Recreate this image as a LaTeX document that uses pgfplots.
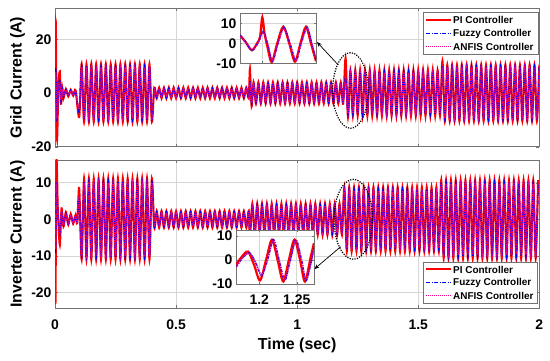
\documentclass[border=0pt]{standalone}
\usepackage{fontspec}
\setmainfont{Liberation Sans}
\usepackage{pgfplots}
\pgfplotsset{compat=1.18}
\usepackage{pgfplotstable}
\usetikzlibrary{arrows.meta}
\definecolor{axgray}{gray}{0.45}
\newcommand\tk{\bfseries\fontsize{14}{16}\selectfont}
\newcommand\lb{\bfseries\fontsize{16}{18}\selectfont}
\newcommand\lgf{\bfseries\fontsize{10}{12}\selectfont}

\pgfplotstableread{
t pi fz an
0.000 0 0 0
0.003 27 9 7
0.008 -17 -10 -9
0.014 2 1 1
0.020 8 5 4
0.025 -4 -3 -2.5
0.030 2 1.5 1.5
0.035 -2 -1.5 -1.2
0.045 1.5 1.2 1
0.055 -1.3 -1 -1
0.065 1.2 1 1
0.075 -1 -1 -0.8
0.085 1 0.8 0.8
0.100 -9 -7 -6
0.110 10.8 10 9.6
0.120 -10.8 -10 -9.6
0.130 10.8 10 9.6
0.140 -10.8 -10 -9.6
0.150 10.8 10 9.6
0.160 -10.8 -10 -9.6
0.170 10.8 10 9.6
0.180 -10.8 -10 -9.6
0.190 10.8 10 9.6
0.200 -10.8 -10 -9.6
0.210 10.8 10 9.6
0.220 -10.8 -10 -9.6
0.230 10.8 10 9.6
0.240 -10.8 -10 -9.6
0.250 10.8 10 9.6
0.260 -10.8 -10 -9.6
0.270 10.8 10 9.6
0.280 -10.8 -10 -9.6
0.290 10.8 10 9.6
0.300 -10.8 -10 -9.6
0.310 10.8 10 9.6
0.320 -10.8 -10 -9.6
0.330 10.8 10 9.6
0.340 -10.8 -10 -9.6
0.350 10.8 10 9.6
0.360 -10.8 -10 -9.6
0.370 10.8 10 9.6
0.380 -10.8 -10 -9.6
0.390 10.8 10 9.6
0.400 -10.8 -10 -9.6
0.410 2 1.7 1.5
0.420 -2 -1.7 -1.5
0.430 2 1.7 1.5
0.440 -2 -1.7 -1.5
0.450 2 1.7 1.5
0.460 -2 -1.7 -1.5
0.470 2 1.7 1.5
0.480 -2 -1.7 -1.5
0.490 2 1.7 1.5
0.500 -2 -1.7 -1.5
0.510 2 1.7 1.5
0.520 -2 -1.7 -1.5
0.530 2 1.7 1.5
0.540 -2 -1.7 -1.5
0.550 2 1.7 1.5
0.560 -2 -1.7 -1.5
0.570 2 1.7 1.5
0.580 -2 -1.7 -1.5
0.590 2 1.7 1.5
0.600 -2 -1.7 -1.5
0.610 2 1.7 1.5
0.620 -2 -1.7 -1.5
0.630 2 1.7 1.5
0.640 -2 -1.7 -1.5
0.650 2 1.7 1.5
0.660 -2 -1.7 -1.5
0.670 2 1.7 1.5
0.680 -2 -1.7 -1.5
0.690 2 1.7 1.5
0.700 -2 -1.7 -1.5
0.710 2 1.7 1.5
0.720 -2 -1.7 -1.5
0.730 2 1.7 1.5
0.740 -2 -1.7 -1.5
0.750 2 1.7 1.5
0.760 -2 -1.7 -1.5
0.770 2 1.7 1.5
0.780 -2 -1.7 -1.5
0.790 2 1.7 1.5
0.800 -2 -1.7 -1.5
0.805 9 4.5 4
0.812 -5 -4 -3.6
0.820 4 3.6 3.4
0.830 -4 -3.6 -3.4
0.840 4 3.6 3.4
0.850 -4 -3.6 -3.4
0.860 4 3.6 3.4
0.870 -4 -3.6 -3.4
0.880 4 3.6 3.4
0.890 -4 -3.6 -3.4
0.900 4 3.6 3.4
0.910 -4 -3.6 -3.4
0.920 4 3.6 3.4
0.930 -4 -3.6 -3.4
0.940 4 3.6 3.4
0.950 -4 -3.6 -3.4
0.960 4 3.6 3.4
0.970 -4 -3.6 -3.4
0.980 4 3.6 3.4
0.990 -4 -3.6 -3.4
1.000 4 3.6 3.4
1.010 -4 -3.6 -3.4
1.020 4 3.6 3.4
1.030 -4 -3.6 -3.4
1.040 4 3.6 3.4
1.050 -4 -3.6 -3.4
1.060 4 3.6 3.4
1.070 -4 -3.6 -3.4
1.080 4 3.6 3.4
1.090 -4 -3.6 -3.4
1.100 4 3.6 3.4
1.110 -4 -3.6 -3.4
1.120 4 3.6 3.4
1.130 -4 -3.6 -3.4
1.140 4 3.6 3.4
1.150 -4 -3.6 -3.4
1.160 4 3.6 3.4
1.170 -4 -3.6 -3.4
1.180 4 3.6 3.4
1.190 -4 -3.6 -3.4
1.200 13 6 5.5
1.210 -9.1 -8 -7.6
1.220 8.5 7.9 7.6
1.230 -8.5 -7.9 -7.6
1.240 8.5 7.9 7.6
1.250 -8.5 -7.9 -7.6
1.260 8.5 7.9 7.6
1.270 -8.5 -7.9 -7.6
1.280 8.5 7.9 7.6
1.290 -8.5 -7.9 -7.6
1.300 8.5 7.9 7.6
1.310 -8.5 -7.9 -7.6
1.320 8.5 7.9 7.6
1.330 -8.5 -7.9 -7.6
1.340 8.5 7.9 7.6
1.350 -8.5 -7.9 -7.6
1.360 8.5 7.9 7.6
1.370 -8.5 -7.9 -7.6
1.380 8.5 7.9 7.6
1.390 -8.5 -7.9 -7.6
1.400 8.5 7.9 7.6
1.410 -8.5 -7.9 -7.6
1.420 8.5 7.9 7.6
1.430 -8.5 -7.9 -7.6
1.440 8.5 7.9 7.6
1.450 -8.5 -7.9 -7.6
1.460 8.5 7.9 7.6
1.470 -8.5 -7.9 -7.6
1.480 8.5 7.9 7.6
1.490 -8.5 -7.9 -7.6
1.500 8.5 7.9 7.6
1.510 -8.5 -7.9 -7.6
1.520 8.5 7.9 7.6
1.530 -8.5 -7.9 -7.6
1.540 8.5 7.9 7.6
1.550 -8.5 -7.9 -7.6
1.560 8.5 7.9 7.6
1.570 -8.5 -7.9 -7.6
1.580 8.5 7.9 7.6
1.590 -8.5 -7.9 -7.6
1.600 12 10 9.6
1.610 -10.5 -10 -9.6
1.620 10.5 10 9.6
1.630 -10.5 -10 -9.6
1.640 10.5 10 9.6
1.650 -10.5 -10 -9.6
1.660 10.5 10 9.6
1.670 -10.5 -10 -9.6
1.680 10.5 10 9.6
1.690 -10.5 -10 -9.6
1.700 10.5 10 9.6
1.710 -10.5 -10 -9.6
1.720 10.5 10 9.6
1.730 -10.5 -10 -9.6
1.740 10.5 10 9.6
1.750 -10.5 -10 -9.6
1.760 10.5 10 9.6
1.770 -10.5 -10 -9.6
1.780 10.5 10 9.6
1.790 -10.5 -10 -9.6
1.800 10.5 10 9.6
1.810 -10.5 -10 -9.6
1.820 10.5 10 9.6
1.830 -10.5 -10 -9.6
1.840 10.5 10 9.6
1.850 -10.5 -10 -9.6
1.860 10.5 10 9.6
1.870 -10.5 -10 -9.6
1.880 10.5 10 9.6
1.890 -10.5 -10 -9.6
1.900 10.5 10 9.6
1.910 -10.5 -10 -9.6
1.920 10.5 10 9.6
1.930 -10.5 -10 -9.6
1.940 10.5 10 9.6
1.950 -10.5 -10 -9.6
1.960 10.5 10 9.6
1.970 -10.5 -10 -9.6
1.980 10.5 10 9.6
1.990 -10.5 -10 -9.6
2.000 10.5 10 9.6
}\toptab

\pgfplotstableread{
t pi fz an
0.000 0 0 0
0.002 -23 -9 -8
0.006 16 10 9
0.012 2 2 1.5
0.020 -7 -4 -3.5
0.027 3 2 2
0.035 -2 -1.5 -1.5
0.045 2 1.5 1.2
0.055 -1.5 -1.2 -1
0.065 1.5 1.2 1
0.075 -1.2 -1 -1
0.085 1.2 1 1
0.092 -1 -1 -0.8
0.100 8.5 6 5.5
0.110 -11 -10.3 -10
0.120 11.2 10.3 10
0.130 -11 -10.3 -10
0.140 11.2 10.3 10
0.150 -11 -10.3 -10
0.160 11.2 10.3 10
0.170 -11 -10.3 -10
0.180 11.2 10.3 10
0.190 -11 -10.3 -10
0.200 11.2 10.3 10
0.210 -11 -10.3 -10
0.220 11.2 10.3 10
0.230 -11 -10.3 -10
0.240 11.2 10.3 10
0.250 -11 -10.3 -10
0.260 11.2 10.3 10
0.270 -11 -10.3 -10
0.280 11.2 10.3 10
0.290 -11 -10.3 -10
0.300 11.2 10.3 10
0.310 -11 -10.3 -10
0.320 11.2 10.3 10
0.330 -11 -10.3 -10
0.340 11.2 10.3 10
0.350 -11 -10.3 -10
0.360 11.2 10.3 10
0.370 -11 -10.3 -10
0.380 11.2 10.3 10
0.390 -11 -10.3 -10
0.400 11.2 10.3 10
0.410 -2.3 -2 -1.8
0.420 2.3 2 1.8
0.430 -2.3 -2 -1.8
0.440 2.3 2 1.8
0.450 -2.3 -2 -1.8
0.460 2.3 2 1.8
0.470 -2.3 -2 -1.8
0.480 2.3 2 1.8
0.490 -2.3 -2 -1.8
0.500 2.3 2 1.8
0.510 -2.3 -2 -1.8
0.520 2.3 2 1.8
0.530 -2.3 -2 -1.8
0.540 2.3 2 1.8
0.550 -2.3 -2 -1.8
0.560 2.3 2 1.8
0.570 -2.3 -2 -1.8
0.580 2.3 2 1.8
0.590 -2.3 -2 -1.8
0.600 2.3 2 1.8
0.610 -2.3 -2 -1.8
0.620 2.3 2 1.8
0.630 -2.3 -2 -1.8
0.640 2.3 2 1.8
0.650 -2.3 -2 -1.8
0.660 2.3 2 1.8
0.670 -2.3 -2 -1.8
0.680 2.3 2 1.8
0.690 -2.3 -2 -1.8
0.700 2.3 2 1.8
0.710 -2.3 -2 -1.8
0.720 2.3 2 1.8
0.730 -2.3 -2 -1.8
0.740 2.3 2 1.8
0.750 -2.3 -2 -1.8
0.760 2.3 2 1.8
0.770 -2.3 -2 -1.8
0.780 2.3 2 1.8
0.790 -2.3 -2 -1.8
0.800 2.3 2 1.8
0.805 -5 -4 -3.8
0.815 4.3 3.9 3.7
0.825 -4.3 -3.9 -3.7
0.835 4.3 3.9 3.7
0.845 -4.3 -3.9 -3.7
0.855 4.3 3.9 3.7
0.865 -4.3 -3.9 -3.7
0.875 4.3 3.9 3.7
0.885 -4.3 -3.9 -3.7
0.895 4.3 3.9 3.7
0.905 -4.3 -3.9 -3.7
0.915 4.3 3.9 3.7
0.925 -4.3 -3.9 -3.7
0.935 4.3 3.9 3.7
0.945 -4.3 -3.9 -3.7
0.955 4.3 3.9 3.7
0.965 -4.3 -3.9 -3.7
0.975 4.3 3.9 3.7
0.985 -4.3 -3.9 -3.7
0.995 4.3 3.9 3.7
1.005 -4.3 -3.9 -3.7
1.015 4.3 3.9 3.7
1.025 -4.3 -3.9 -3.7
1.035 4.3 3.9 3.7
1.045 -4.3 -3.9 -3.7
1.055 4.3 3.9 3.7
1.065 -4.3 -3.9 -3.7
1.075 4.3 3.9 3.7
1.085 -4.3 -3.9 -3.7
1.095 4.3 3.9 3.7
1.105 -4.3 -3.9 -3.7
1.115 4.3 3.9 3.7
1.125 -4.3 -3.9 -3.7
1.135 4.3 3.9 3.7
1.145 -4.3 -3.9 -3.7
1.155 4.3 3.9 3.7
1.165 -4.3 -3.9 -3.7
1.175 4.3 3.9 3.7
1.185 -4.3 -3.9 -3.7
1.195 8.8 8.2 7.8
1.205 -8.8 -8.2 -7.8
1.215 8.8 8.2 7.8
1.225 -8.8 -8.2 -7.8
1.235 8.8 8.2 7.8
1.245 -8.8 -8.2 -7.8
1.255 8.8 8.2 7.8
1.265 -8.8 -8.2 -7.8
1.275 8.8 8.2 7.8
1.285 -8.8 -8.2 -7.8
1.295 8.8 8.2 7.8
1.305 -8.8 -8.2 -7.8
1.315 8.8 8.2 7.8
1.325 -8.8 -8.2 -7.8
1.335 8.8 8.2 7.8
1.345 -8.8 -8.2 -7.8
1.355 8.8 8.2 7.8
1.365 -8.8 -8.2 -7.8
1.375 8.8 8.2 7.8
1.385 -8.8 -8.2 -7.8
1.395 8.8 8.2 7.8
1.405 -8.8 -8.2 -7.8
1.415 8.8 8.2 7.8
1.425 -8.8 -8.2 -7.8
1.435 8.8 8.2 7.8
1.445 -8.8 -8.2 -7.8
1.455 8.8 8.2 7.8
1.465 -8.8 -8.2 -7.8
1.475 8.8 8.2 7.8
1.485 -8.8 -8.2 -7.8
1.495 8.8 8.2 7.8
1.505 -8.8 -8.2 -7.8
1.515 8.8 8.2 7.8
1.525 -8.8 -8.2 -7.8
1.535 8.8 8.2 7.8
1.545 -8.8 -8.2 -7.8
1.555 8.8 8.2 7.8
1.565 -8.8 -8.2 -7.8
1.575 8.8 8.2 7.8
1.585 -8.8 -8.2 -7.8
1.595 10.7 10.1 9.7
1.605 -10.7 -10.1 -9.7
1.615 10.7 10.1 9.7
1.625 -10.7 -10.1 -9.7
1.635 10.7 10.1 9.7
1.645 -10.7 -10.1 -9.7
1.655 10.7 10.1 9.7
1.665 -10.7 -10.1 -9.7
1.675 10.7 10.1 9.7
1.685 -10.7 -10.1 -9.7
1.695 10.7 10.1 9.7
1.705 -10.7 -10.1 -9.7
1.715 10.7 10.1 9.7
1.725 -10.7 -10.1 -9.7
1.735 10.7 10.1 9.7
1.745 -10.7 -10.1 -9.7
1.755 10.7 10.1 9.7
1.765 -10.7 -10.1 -9.7
1.775 10.7 10.1 9.7
1.785 -10.7 -10.1 -9.7
1.795 10.7 10.1 9.7
1.805 -10.7 -10.1 -9.7
1.815 10.7 10.1 9.7
1.825 -10.7 -10.1 -9.7
1.835 10.7 10.1 9.7
1.845 -10.7 -10.1 -9.7
1.855 10.7 10.1 9.7
1.865 -10.7 -10.1 -9.7
1.875 10.7 10.1 9.7
1.885 -10.7 -10.1 -9.7
1.895 10.7 10.1 9.7
1.905 -10.7 -10.1 -9.7
1.915 10.7 10.1 9.7
1.925 -10.7 -10.1 -9.7
1.935 10.7 10.1 9.7
1.945 -10.7 -10.1 -9.7
1.955 10.7 10.1 9.7
1.965 -10.7 -10.1 -9.7
1.975 10.7 10.1 9.7
1.985 -10.7 -10.1 -9.7
1.995 10.7 10.1 9.7
}\bottab

\pgfplotstableread{
t pi
1.1702 4
1.178 0.5
1.186 -3.5
1.193 0
1.197 3.3
1.200 13
1.203 5
1.207 -2
1.2126 -9.5
1.220 0
1.228 8.3
1.236 0
1.2437 -9.2
1.251 0
1.2584 8.3
1.265 0
1.2718 -9
}\insApi
\pgfplotstableread{
t fz an
1.1702 4 3.6
1.178 0.5 0.6
1.186 -3.5 -3.2
1.194 0 0
1.201 5.8 5.4
1.207 0 0
1.2135 -9 -8.6
1.221 0 0
1.229 8 7.6
1.237 0 0
1.245 -8.8 -8.4
1.252 0 0
1.260 8 7.6
1.266 0 0
1.2718 -8 -7.6
}\insAfz
\pgfplotstableread{
t pi
1.169 -2
1.177 1.5
1.185 3.5
1.193 -2
1.201 -8.5
1.209 0
1.217 8.5
1.2245 0
1.232 -9
1.2395 0
1.247 8.5
1.2545 0
1.261 -9
1.2685 1
1.273 7
}\insBpi
\pgfplotstableread{
t fz an
1.169 -3 -3
1.178 1 1
1.187 3 2.8
1.195 -1 -1
1.203 -6.5 -6.2
1.211 0 0
1.219 8.5 8.2
1.2265 0 0
1.234 -8.5 -8.2
1.2415 0 0
1.249 8.5 8.2
1.2565 0 0
1.263 -8.5 -8.2
1.273 5 4.6
}\insBfz

\pgfplotsset{
  mainax/.style={
    scale only axis, width=484.3bp, xmin=0, xmax=2, xtick={0,0.5,1,1.5,2},
    grid=major, major grid style={black!16, line width=0.5bp},
    axis line style={axgray, line width=0.7bp},
    tick style={axgray}, tick align=inside, major tick length=3bp,
    tick label style={font=\tk}, /pgf/number format/assume math mode=true,
    every axis y label/.style={at={(axis description cs:-0.0774,0.5)}, anchor=center, rotate=90, font=\lb},
  },
  insax/.style={
    scale only axis, grid=major, major grid style={black!16, line width=0.5bp},
    axis line style={axgray, line width=0.7bp}, tick style={axgray}, tick align=inside,
    major tick length=2bp, tick label style={font=\tk}, /pgf/number format/assume math mode=true,
    axis background/.style={fill=white}, ytick={-10,0,10},
    xticklabel style={/pgf/number format/precision=2},
  },
}
\tikzset{
  sPI/.style={color=red, line width=2bp, solid},
  sFZ/.style={color=blue, line width=1.4bp, dash pattern=on 4bp off 1.5bp on 1bp off 1.5bp},
  sAN/.style={color=magenta, line width=1.4bp, dash pattern=on 1bp off 1bp},
  lgtext/.style={anchor=west, font=\lgf, inner sep=0pt, text=black},
}

\begin{document}
\begin{tikzpicture}
\useasboundingbox (0,0) rectangle (550bp,361bp);
% top axis
\begin{axis}[mainax, at={(55bp,352.7bp)}, anchor=north west, height=138.4bp,
  ymin=-20, ymax=31.5, ytick={-20,0,20}, xticklabels={},
  ylabel={Grid Current (A)}]
\addplot[sPI, smooth, tension=0.5] table[x=t,y=pi]{\toptab};
\addplot[sFZ, smooth, tension=0.5] table[x=t,y=fz]{\toptab};
\addplot[sAN, smooth, tension=0.5] table[x=t,y=an]{\toptab};
\end{axis}
% bottom axis
\begin{axis}[mainax, at={(55bp,201bp)}, anchor=north west, height=148.3bp,
  ymin=-24.3, ymax=16.2, ytick={-20,-10,0,10},
  xticklabel style={anchor=center, yshift=-16.5bp},
  ylabel={Inverter Current (A)},
  xlabel={Time (sec)},
  every axis x label/.style={at={(axis description cs:0.5,-0.2475)}, anchor=center, font=\lb}]
\addplot[sPI, smooth, tension=0.5] table[x=t,y=pi]{\bottab};
\addplot[sFZ, smooth, tension=0.5] table[x=t,y=fz]{\bottab};
\addplot[sAN, smooth, tension=0.5] table[x=t,y=an]{\bottab};
\end{axis}
% top inset
\begin{axis}[insax, at={(240bp,347.7bp)}, anchor=north west, width=76bp, height=50bp,
  xmin=1.1702, xmax=1.2718, ymin=-10, ymax=15, xtick={1.2}, xticklabels={}]
\addplot[red, line width=2.2bp, smooth] table[x=t,y=pi]{\insApi};
\addplot[blue, line width=1.4bp, smooth, dash pattern=on 3bp off 1.2bp on 1bp off 1.2bp] table[x=t,y=fz]{\insAfz};
\addplot[magenta, line width=1.4bp, smooth, dash pattern=on 1bp off 1bp] table[x=t,y=an]{\insAfz};
\end{axis}
% bottom inset
\begin{axis}[insax, at={(236bp,131bp)}, anchor=north west, width=78bp, height=54bp,
  xmin=1.1689, xmax=1.2731, ymin=-10, ymax=12.5, xtick={1.2,1.25},
  xticklabel style={anchor=center, yshift=-16bp}]
\addplot[red, line width=2.2bp, smooth] table[x=t,y=pi]{\insBpi};
\addplot[blue, line width=1.4bp, smooth, dash pattern=on 3bp off 1.2bp on 1bp off 1.2bp] table[x=t,y=fz]{\insBfz};
\addplot[magenta, line width=1.4bp, smooth, dash pattern=on 1bp off 1bp] table[x=t,y=an]{\insBfz};
\end{axis}
% legends
\draw[axgray, fill=white, line width=0.7bp] (423bp,307bp) rectangle (538bp,349bp);
\draw[sPI] (426bp,340.5bp) -- (451bp,340.5bp);
\draw[sFZ, line width=1.6bp] (426bp,327.5bp) -- (451bp,327.5bp);
\draw[sAN, line width=1.6bp] (426bp,314.5bp) -- (451bp,314.5bp);
\node[lgtext] at (453bp,341bp) {PI Controller};
\node[lgtext] at (453bp,327.5bp) {Fuzzy Controller};
\node[lgtext] at (453bp,314.5bp) {ANFIS Controller};
\draw[axgray, fill=white, line width=0.7bp] (423bp,58bp) rectangle (537bp,99bp);
\draw[sPI] (426bp,91.5bp) -- (451bp,91.5bp);
\draw[sFZ, line width=1.6bp] (426bp,78.5bp) -- (451bp,78.5bp);
\draw[sAN, line width=1.6bp] (426bp,65.5bp) -- (451bp,65.5bp);
\node[lgtext] at (453bp,91.5bp) {PI Controller};
\node[lgtext] at (453bp,78.3bp) {Fuzzy Controller};
\node[lgtext] at (453bp,65bp) {ANFIS Controller};
% annotations
\draw[line width=1.2bp, dash pattern=on 1.2bp off 1.3bp] (350.5bp,270.5bp) ellipse [x radius=17.8bp, y radius=37.8bp];
\draw[line width=1.2bp, dash pattern=on 1.2bp off 1.3bp] (353.3bp,141.7bp) ellipse [x radius=19.3bp, y radius=40bp];
\draw[-{Stealth[length=5bp,width=4bp]}, line width=0.7bp] (338.3bp,296bp) -- (316.9bp,319bp);
\draw[-{Stealth[length=5bp,width=4bp]}, line width=0.7bp] (340.7bp,114.3bp) -- (314.3bp,91.9bp);
\end{tikzpicture}
\end{document}
